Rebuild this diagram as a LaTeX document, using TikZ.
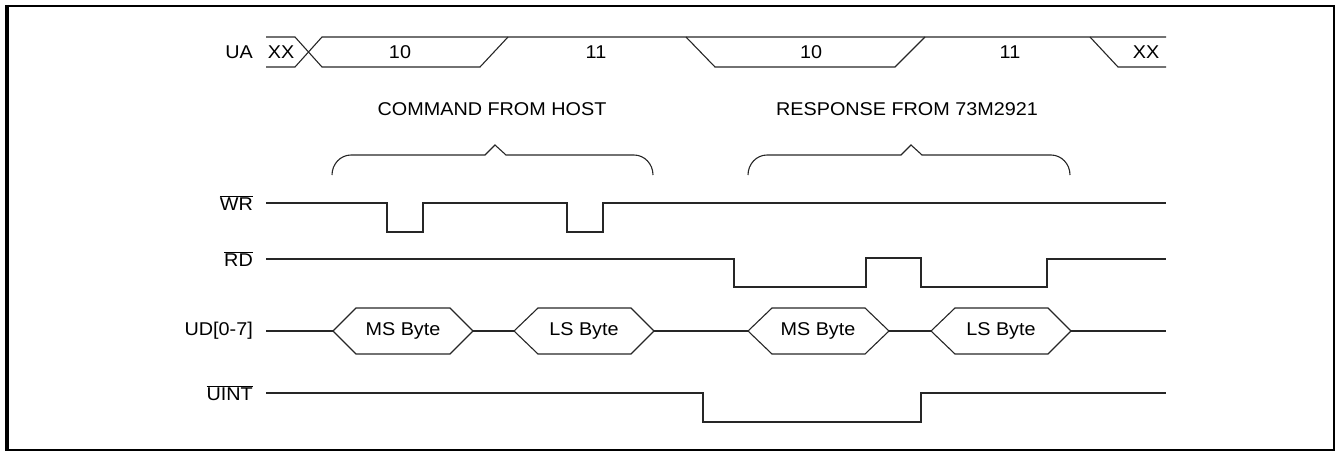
\documentclass[tikz,border=0pt]{standalone}
\usepackage{fontspec}
\setmainfont{Liberation Sans}[FakeStretch=1.07]
\begin{document}
\begin{tikzpicture}[x=1pt,y=-1pt,
  wave/.style={draw=black!85,line width=1.1pt,line join=miter},
  lbl/.style={anchor=east,inner sep=0pt,font=\fontsize{18.5}{22}\selectfont},
  txt/.style={inner sep=0pt,font=\fontsize{18.5}{22}\selectfont}]
\useasboundingbox (0,0) rectangle (1338,452);
% border
\draw[line width=2pt] (7,6) rectangle (1334,450);
\draw[line width=4pt] (7,5) -- (7,451);
% signal labels
\node[lbl] (lua) at (253,52) {UA};
\node[lbl] (lwr) at (253,203) {$\overline{\mbox{WR}}$};
\node[lbl] (lrd) at (253,259) {$\overline{\mbox{RD}}$};
\node[lbl] (lud) at (253,331) {UD[0-7]};
\node[lbl] (lui) at (253,393) {$\overline{\mbox{UINT}}$};
% UA bus
\draw[wave] (266,37) -- (295,37) -- (322,67) -- (480,67) -- (508,37);
\draw[wave] (266,67) -- (295,67) -- (322,37) -- (1166,37);
\draw[wave] (686,37) -- (715,67) -- (895,67) -- (925,37);
\draw[wave] (1090,37) -- (1118,67) -- (1166,67);
\node[txt] (ua1) at (281,52) {XX};
\node[txt] (ua2) at (400,52) {10};
\node[txt] (ua3) at (596,52) {11};
\node[txt] (ua4) at (811,52) {10};
\node[txt] (ua5) at (1010,52) {11};
\node[txt] (ua6) at (1146,52) {XX};
% titles
\node[txt] (cmd) at (492,109) {COMMAND FROM HOST};
\node[txt] (rsp) at (907,109) {RESPONSE FROM 73M2921};
% braces
\draw[wave] (332,175) .. controls (332,164) and (340.5,155) .. (351,155) -- (485,155) -- (495,145) -- (506,155) -- (634,155) .. controls (644.5,155) and (653,164) .. (653,175);
\draw[wave] (748,175) .. controls (748,164) and (756.5,155) .. (767,155) -- (901,155) -- (911,145) -- (922,155) -- (1051,155) .. controls (1061.5,155) and (1070,164) .. (1070,175);
% WR
\draw[wave] (266,203) -- (387,203) -- (387,232) -- (423,232) -- (423,203) -- (567,203) -- (567,232) -- (603,232) -- (603,203) -- (1166,203);
% RD
\draw[wave] (266,259) -- (734,259) -- (734,287) -- (866,287) -- (866,258) -- (921,258) -- (921,287) -- (1047,287) -- (1047,259) -- (1166,259);
% UD
\draw[wave] (266,331) -- (333,331);
\draw[wave] (333,331) -- (356,308) -- (450,308) -- (473,331) -- (450,354) -- (356,354) -- cycle;
\draw[wave] (473,331) -- (514,331);
\draw[wave] (514,331) -- (538,308) -- (631,308) -- (654,331) -- (631,354) -- (538,354) -- cycle;
\draw[wave] (654,331) -- (748,331);
\draw[wave] (748,331) -- (772,308) -- (865,308) -- (889,331) -- (865,354) -- (772,354) -- cycle;
\draw[wave] (889,331) -- (931,331);
\draw[wave] (931,331) -- (955,308) -- (1048,308) -- (1071,331) -- (1048,354) -- (955,354) -- cycle;
\draw[wave] (1071,331) -- (1166,331);
\node[txt] (b1) at (403,331) {MS Byte};
\node[txt] (b2) at (584,331) {LS Byte};
\node[txt] (b3) at (818,331) {MS Byte};
\node[txt] (b4) at (1001,331) {LS Byte};
% UINT
\draw[wave] (266,393) -- (703,393) -- (703,422) -- (921,422) -- (921,393) -- (1166,393);
\end{tikzpicture}
\end{document}
